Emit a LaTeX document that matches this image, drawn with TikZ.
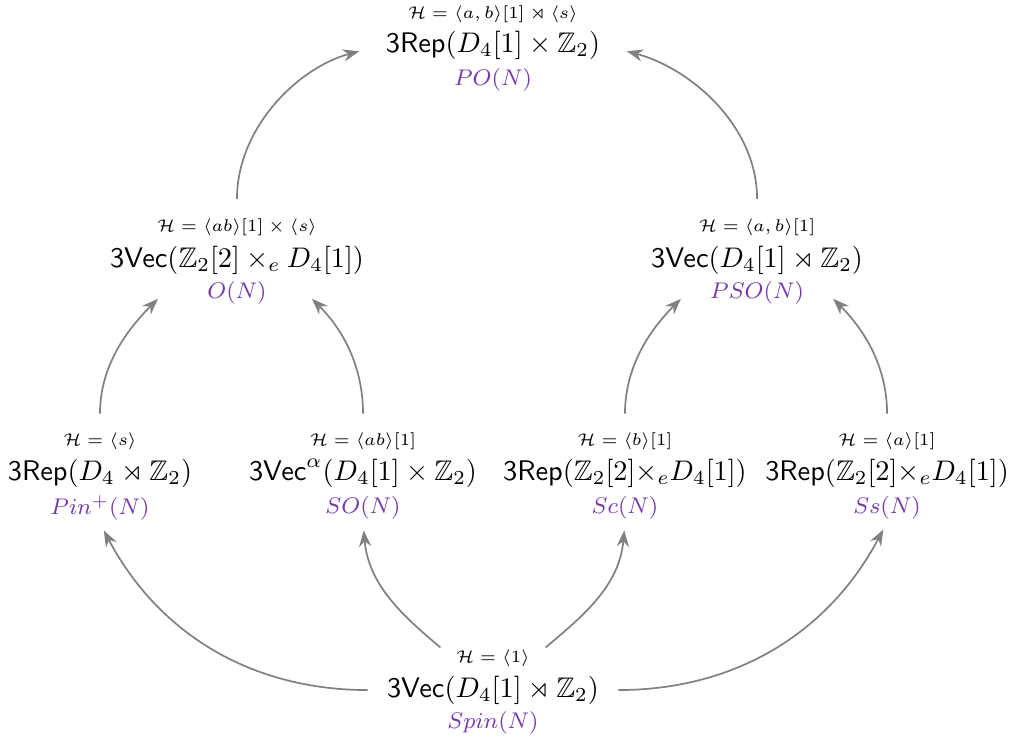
\documentclass[tikz,border=0pt]{standalone}
\usepackage{amsmath,amssymb}
\usepackage{tikz}
\usetikzlibrary{arrows.meta,positioning}
\definecolor{grpviolet}{RGB}{118,58,170}

\begin{document}
\begin{tikzpicture}[>=Stealth, x=1cm, y=1cm,
    cat/.style={font=\normalsize, inner sep=1pt},
    sub/.style={font=\fontsize{6.4}{7.5}\selectfont, inner sep=1pt},
    grp/.style={font=\footnotesize, text=grpviolet, inner sep=1pt},
    flow/.style={->, line width=0.6pt, black!50, shorten <=2mm, shorten >=1mm}]
  \useasboundingbox (0,0) rectangle (12.6,9.215);

  % Top
  \node[cat] (top) at (6.114,8.657) {$\mathsf{3Rep}(D_4[1]\times\mathbb{Z}_2)$};
  \node[sub, yshift=0.38cm] (topH) at (6.114,8.657) {$\mathcal{H}=\langle a,b\rangle[1]\rtimes\langle s\rangle$};
  \node[grp, yshift=-0.43cm] (topL) at (6.114,8.657) {$PO(N)$};

  % Middle row
  \node[cat] (o) at (2.939,5.99) {$\mathsf{3Vec}(\mathbb{Z}_2[2]\times_e D_4[1])$};
  \node[sub, yshift=0.41cm] (oH) at (2.939,5.99) {$\mathcal{H}=\langle ab\rangle[1]\times\langle s\rangle$};
  \node[grp, yshift=-0.41cm] (oL) at (2.939,5.99) {$O(N)$};

  \node[cat] (pso) at (9.389,5.99) {$\mathsf{3Vec}(D_4[1]\rtimes\mathbb{Z}_2)$};
  \node[sub, yshift=0.41cm] (psoH) at (9.389,5.99) {$\mathcal{H}=\langle a,b\rangle[1]$};
  \node[grp, yshift=-0.41cm] (psoL) at (9.389,5.99) {$PSO(N)$};

  % Lower row
  \node[cat] (pin) at (1.24,3.349) {$\mathsf{3Rep}(D_4\rtimes\mathbb{Z}_2)$};
  \node[sub, yshift=0.39cm] (pinH) at (1.24,3.349) {$\mathcal{H}=\langle s\rangle$};
  \node[grp, yshift=-0.43cm] (pinL) at (1.24,3.349) {$Pin^+(N)$};

  \node[cat] (so) at (4.502,3.349) {$\mathsf{3Vec}^{\alpha}(D_4[1]\times\mathbb{Z}_2)$};
  \node[sub, yshift=0.39cm] (soH) at (4.502,3.349) {$\mathcal{H}=\langle ab\rangle[1]$};
  \node[grp, yshift=-0.43cm] (soL) at (4.502,3.349) {$SO(N)$};

  \node[cat] (sc) at (7.751,3.349) {$\mathsf{3Rep}(\mathbb{Z}_2[2]{\times_e}D_4[1])$};
  \node[sub, yshift=0.39cm] (scH) at (7.751,3.349) {$\mathcal{H}=\langle b\rangle[1]$};
  \node[grp, yshift=-0.43cm] (scL) at (7.751,3.349) {$Sc(N)$};

  \node[cat] (ss) at (11.001,3.349) {$\mathsf{3Rep}(\mathbb{Z}_2[2]{\times_e}D_4[1])$};
  \node[sub, yshift=0.39cm] (ssH) at (11.001,3.349) {$\mathcal{H}=\langle a\rangle[1]$};
  \node[grp, yshift=-0.43cm] (ssL) at (11.001,3.349) {$Ss(N)$};

  % Bottom
  \node[cat] (spin) at (6.114,0.657) {$\mathsf{3Vec}(D_4[1]\rtimes\mathbb{Z}_2)$};
  \node[sub, yshift=0.4cm] (spinH) at (6.114,0.657) {$\mathcal{H}=\langle 1\rangle$};
  \node[grp, yshift=-0.41cm] (spinL) at (6.114,0.657) {$Spin(N)$};

  % Arrows from the bottom
  \draw[flow] (spin.west) to[out=180, in=-62] (pinL.south);
  \draw[flow] (spinH.west) to[out=140, in=-85] (soL.south);
  \draw[flow] (spinH.east) to[out=40, in=-95] (scL.south);
  \draw[flow] (spin.east) to[out=0, in=-118] (ssL.south);

  % Arrows to the middle row
  \draw[flow] (pinH.north) to[out=90, in=-135] ([xshift=-5mm]oL.west);
  \draw[flow] (soH.north) to[out=90, in=-45] ([xshift=4.5mm]oL.east);
  \draw[flow] (scH.north) to[out=90, in=-135] ([xshift=-2.5mm]psoL.west);
  \draw[flow] (ssH.north) to[out=90, in=-45] ([xshift=2.5mm]psoL.east);

  % Arrows to the top
  \draw[flow, shorten >=3mm] (oH.north) to[out=90, in=-165] (top.west);
  \draw[flow, shorten >=3mm] (psoH.north) to[out=90, in=-15] (top.east);
\end{tikzpicture}
\end{document}
